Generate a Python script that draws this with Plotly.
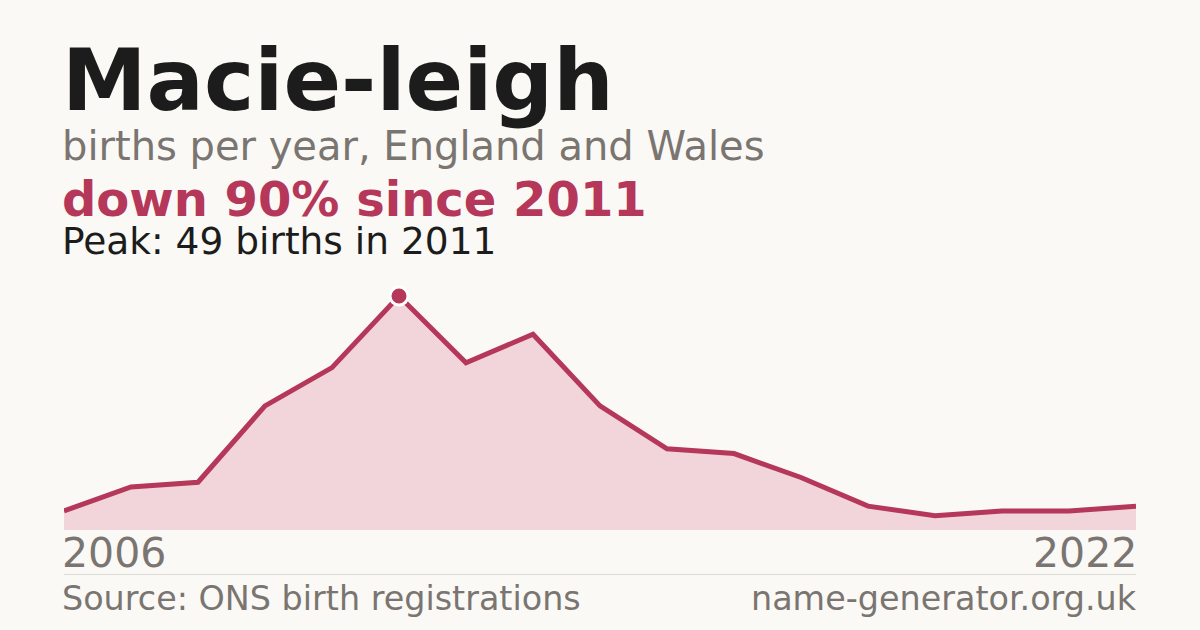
import plotly.graph_objects as go

years = list(range(2006, 2023))
births = [4, 9, 10, 26, 34, 49, 35, 41, 26, 17, 16, 11, 5, 3, 4, 4, 5]

name = "Macie-leigh"
subtitle = "births per year, England and Wales"
source = "Source: ONS birth registrations"
site = "name-generator.org.uk"

peak = max(births)
peak_year = years[births.index(peak)]
change = round((births[-1] - peak) / peak * 100)

RED = "#b5375a"
GREY = "#7a7570"
INK = "#1c1c1c"
BG = "#faf9f5"
FONT = "DejaVu Sans"

# plot area spans y=280..530 px of a 630 px page
TOP, BOTTOM = 280, 530


def py(px):
    # page pixel -> paper coordinate
    return (BOTTOM - px) / (BOTTOM - TOP)


fig = go.Figure()
fig.add_trace(go.Scatter(
    x=years, y=births, mode="lines",
    line=dict(color=RED, width=5),
    fill="tozeroy", fillcolor="#f1d5db",
    hoverinfo="skip",
))
fig.add_trace(go.Scatter(
    x=[peak_year], y=[peak], mode="markers",
    marker=dict(size=18, color=RED, line=dict(color="white", width=3)),
    cliponaxis=False, hoverinfo="skip",
))

texts = [
    (name, 132, 85, INK, True),
    (subtitle, 171, 40, GREY, False),
    ("down %d%% since %d" % (abs(change), peak_year), 229, 48, RED, True),
    ("Peak: %d births in %d" % (peak, peak_year), 265, 37.5, INK, False),
]
for t, base, size, col, bold in texts:
    fig.add_annotation(
        text="<b>%s</b>" % t if bold else t,
        xref="paper", yref="paper", x=0, y=py(base), xshift=-4,
        xanchor="left", yanchor="bottom", showarrow=False,
        font=dict(family=FONT, size=size, color=col),
    )

fig.add_annotation(text=str(years[0]), xref="x", yref="paper", x=years[0], y=py(579),
                   xanchor="left", yanchor="bottom", showarrow=False, xshift=-4,
                   font=dict(family=FONT, size=41, color=GREY))
fig.add_annotation(text=str(years[-1]), xref="x", yref="paper", x=years[-1], y=py(579),
                   xanchor="right", yanchor="bottom", showarrow=False, xshift=3,
                   font=dict(family=FONT, size=41, color=GREY))
fig.add_annotation(text=source, xref="paper", yref="paper", x=0, y=py(620),
                   xanchor="left", yanchor="bottom", showarrow=False, xshift=-4,
                   font=dict(family=FONT, size=33.4, color=GREY))
fig.add_annotation(text=site, xref="paper", yref="paper", x=1, y=py(620),
                   xanchor="right", yanchor="bottom", showarrow=False, xshift=3,
                   font=dict(family=FONT, size=33.4, color=GREY))

fig.add_shape(type="line", xref="paper", yref="paper", x0=0, x1=1,
              y0=py(574.5), y1=py(574.5), line=dict(color="#dcdad4", width=1))

fig.update_xaxes(range=[years[0], years[-1]], visible=False)
fig.update_yaxes(range=[0, peak * 250 / 234], visible=False)
fig.update_layout(
    width=1200, height=630,
    margin=dict(l=64, r=64, t=TOP, b=630 - BOTTOM, pad=0),
    paper_bgcolor=BG, plot_bgcolor=BG,
    showlegend=False,
    font=dict(family=FONT),
)

fig.write_html(
    "out.html",
    config={"displayModeBar": False},
    post_script="document.body.style.margin='0';document.body.style.background='%s';" % BG,
)
